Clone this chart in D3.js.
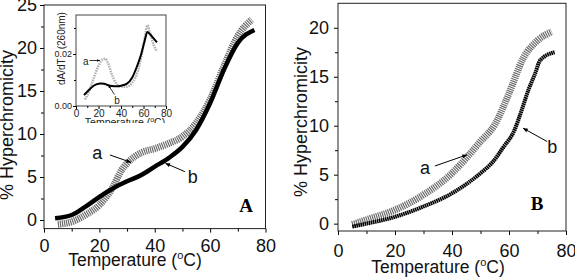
<!DOCTYPE html>
<html>
<head>
<meta charset="utf-8">
<script src="https://cdn.jsdelivr.net/npm/d3@7"></script>
<style>
  body { margin: 0; background: #fff; }
  svg { display: block; font-family: "Liberation Sans", Arial, sans-serif; }
</style>
</head>
<body>
<div id="d3-container"></div>
<script>
/* DATA */
// panel A, main curves
const tempA_a = [5, 10, 15, 20, 25, 28, 30, 35, 40, 45, 50, 55, 60, 65, 70, 75];
const hypA_a  = [-0.5, -0.2, 0.6, 1.75, 3.9, 5.8, 6.6, 7.8, 8.3, 8.9, 9.7, 11.3, 14, 17.9, 21.4, 23.3];
const tempA_b = [4, 10, 15, 20, 25, 30, 35, 40, 45, 50, 55, 60, 65, 70, 76];
const hypA_b  = [0.2, 0.58, 1.55, 2.7, 3.7, 4.5, 5.2, 6.2, 7.2, 8.5, 10.5, 13.6, 17.5, 20.6, 22.1];

// panel A, inset (derivative curves)
const tempIn_a = [8, 12, 16, 20, 24, 26, 28, 32, 36, 40, 45, 50, 55, 58, 61, 63.5, 66, 69, 72];
const dadtIn_a = [0.0025, 0.006, 0.011, 0.0155, 0.018, 0.0182, 0.017, 0.012, 0.0085, 0.0075, 0.0074, 0.009, 0.0135, 0.019, 0.026, 0.031, 0.028, 0.0235, 0.021];
const tempIn_b = [7, 10, 14, 18, 22, 25, 28, 32, 36, 40, 45, 50, 54, 58, 61, 63.5, 66, 69, 72];
const dadtIn_b = [0.0042, 0.0055, 0.0072, 0.0083, 0.0087, 0.0086, 0.0081, 0.0077, 0.0076, 0.0078, 0.0085, 0.011, 0.015, 0.020, 0.025, 0.0285, 0.0275, 0.026, 0.0245];

// panel B
const tempB_a = [5, 10, 20, 30, 40, 45, 50, 55, 60, 65, 70, 75];
const hypB_a  = [-0.1, 0.4, 1.4, 2.95, 5.15, 6.7, 8.4, 10.1, 13.3, 16.9, 18.7, 19.6];
const tempB_b = [5, 10, 20, 30, 40, 50, 54, 58, 62, 64, 67, 69, 71, 76];
const hypB_b  = [-0.3, 0, 0.7, 1.75, 3.1, 5.15, 6.2, 7.8, 9.6, 11.2, 13.8, 15.2, 16.7, 17.5];

// ticks
const xTicks = [0, 20, 40, 60, 80];
const xMinor = [10, 30, 50, 70];
const yTicksA = [0, 5, 10, 15, 20, 25];
const yTicksB = [0, 5, 10, 15, 20];
const yMinor = [2.5, 7.5, 12.5, 17.5, 22.5];
const insetYTicks = [0, 0.02];
const insetYMinor = [0.01, 0.03];

/* SVG */
const width = 575, height = 277;
const svg = d3.select("#d3-container").append("svg")
  .attr("width", width).attr("height", height);

const defs = svg.append("defs");
defs.append("marker")
  .attr("id", "arrow").attr("viewBox", "0 0 10 10")
  .attr("refX", 9).attr("refY", 5)
  .attr("markerWidth", 6).attr("markerHeight", 5)
  .attr("orient", "auto")
  .append("path").attr("d", "M0,1 L10,5 L0,9 Z").attr("fill", "#000");
defs.append("marker")
  .attr("id", "arrowSmall").attr("viewBox", "0 0 10 10")
  .attr("refX", 9).attr("refY", 5)
  .attr("markerWidth", 4).attr("markerHeight", 4)
  .attr("orient", "auto")
  .append("path").attr("d", "M0,1 L10,5 L0,9 Z").attr("fill", "#000");

const zip = (xs, ys) => xs.map((x, i) => [x, ys[i]]);

function drawPanel(cfg) {
  const x = d3.scaleLinear().domain([0, 80]).range([cfg.left, cfg.right]);
  const y = d3.scaleLinear().domain(cfg.yDomain).range([cfg.bottom, cfg.top]);
  const g = svg.append("g");

  // minor ticks
  g.append("g").attr("transform", `translate(0,${cfg.bottom})`)
    .call(d3.axisBottom(x).tickValues(xMinor).tickSize(3).tickFormat(""))
    .call(a => a.select(".domain").remove());
  g.append("g").attr("transform", `translate(${cfg.left},0)`)
    .call(d3.axisLeft(y).tickValues(yMinor.filter(v => v < cfg.yDomain[1])).tickSize(3).tickFormat(""))
    .call(a => a.select(".domain").remove());

  // major ticks
  const xa = g.append("g").attr("transform", `translate(0,${cfg.bottom})`)
    .call(d3.axisBottom(x).tickValues(xTicks).tickSize(4).tickPadding(cfg.xPad));
  const ya = g.append("g").attr("transform", `translate(${cfg.left},0)`)
    .call(d3.axisLeft(y).tickValues(cfg.yTicks).tickSize(4).tickPadding(cfg.yPad));
  [xa, ya].forEach(a => {
    a.select(".domain").remove();
    a.selectAll("text").attr("font-size", 18).attr("fill", "#111").attr("font-family", "Liberation Sans, Arial");
  });

  // curves: a = grey hatched band, b = black
  const line = d3.line().x(d => x(d[0])).y(d => y(d[1])).curve(d3.curveMonotoneX);
  g.append("path").datum(zip(cfg.aT, cfg.aV))
    .attr("d", line).attr("fill", "none")
    .attr("stroke", "#6a6a6a").attr("stroke-width", 7)
    .attr("stroke-dasharray", "1.2 0.9");
  g.append("path").datum(zip(cfg.bT, cfg.bV))
    .attr("d", line).attr("fill", "none")
    .attr("stroke", "#000").attr("stroke-width", cfg.bWidth)
    .attr("stroke-dasharray", cfg.bDash);

  // frame
  g.append("rect")
    .attr("x", cfg.left).attr("y", cfg.top)
    .attr("width", cfg.right - cfg.left).attr("height", cfg.bottom - cfg.top)
    .attr("fill", "none").attr("stroke", "#222").attr("stroke-width", 1);

  // labels a / b with arrows
  cfg.notes.forEach(n => {
    g.append("line")
      .attr("x1", x(n.tail[0])).attr("y1", y(n.tail[1]))
      .attr("x2", x(n.tip[0])).attr("y2", y(n.tip[1]))
      .attr("stroke", "#000").attr("stroke-width", 1)
      .attr("marker-end", "url(#arrow)");
    g.append("text")
      .attr("x", x(n.at[0])).attr("y", y(n.at[1]))
      .attr("text-anchor", "middle").attr("dominant-baseline", "central")
      .attr("font-size", 18).attr("fill", "#111")
      .text(n.label);
  });

  // panel letter
  g.append("text")
    .attr("x", cfg.letterX).attr("y", cfg.letterY)
    .attr("text-anchor", "middle")
    .attr("font-family", "Liberation Serif, Times New Roman, serif")
    .attr("font-weight", "bold").attr("font-size", 19)
    .text(cfg.letter);

  // axis titles
  const xt = g.append("text")
    .attr("x", cfg.xTitleX).attr("y", cfg.xTitleY)
    .attr("text-anchor", "middle").attr("font-size", 17.5).attr("fill", "#111");
  xt.append("tspan").text("Temperature (");
  xt.append("tspan").attr("dy", -7).attr("font-size", 11).text("o");
  xt.append("tspan").attr("dy", 7).text("C)");

  g.append("text")
    .attr("transform", `translate(${cfg.yTitleX},${cfg.yTitleY}) rotate(-90)`)
    .attr("text-anchor", "middle").attr("font-size", 18).attr("fill", "#111")
    .text("% Hyperchromicity");

  return { x, y };
}

/* PANEL A */
drawPanel({
  left: 44, right: 265.5, top: 5, bottom: 228.6, yDomain: [-1, 25],
  yTicks: yTicksA, xPad: 7, yPad: 3,
  aT: tempA_a, aV: hypA_a, bT: tempA_b, bV: hypA_b, bWidth: 4.5, bDash: null,
  notes: [
    { label: "a", at: [19.2, 7.76], tail: [23.8, 7.56], tip: [31.4, 6.71] },
    { label: "b", at: [53.7, 5.03], tail: [50.9, 5.62], tip: [43.9, 6.59] }
  ],
  letter: "A", letterX: 246, letterY: 212,
  xTitleX: 135, xTitleY: 266, yTitleX: 13, yTitleY: 125
});

/* INSET in A */
(function () {
  const L = 76, R = 166, T = 15, B = 106;
  const x = d3.scaleLinear().domain([0, 80]).range([L, R]);
  const y = d3.scaleLinear().domain([0, 0.035]).range([B, T]);
  const g = svg.append("g");
  g.append("rect").attr("x", L).attr("y", T).attr("width", R - L).attr("height", B - T)
    .attr("fill", "#fff").attr("stroke", "#444").attr("stroke-width", 1);

  g.append("g").attr("transform", `translate(0,${B})`)
    .call(d3.axisBottom(x).tickValues(xMinor).tickSize(2).tickFormat(""))
    .call(a => a.select(".domain").remove());
  g.append("g").attr("transform", `translate(${L},0)`)
    .call(d3.axisLeft(y).tickValues(insetYMinor).tickSize(2).tickFormat(""))
    .call(a => a.select(".domain").remove());
  const xa = g.append("g").attr("transform", `translate(0,${B})`)
    .call(d3.axisBottom(x).tickValues(xTicks).tickSize(3).tickPadding(1));
  const ya = g.append("g").attr("transform", `translate(${L},0)`)
    .call(d3.axisLeft(y).tickValues(insetYTicks).tickSize(3).tickPadding(1).tickFormat(d3.format(".2f")));
  [xa, ya].forEach(a => {
    a.select(".domain").remove();
    a.selectAll("text").attr("fill", "#222").attr("font-family", "Liberation Sans, Arial");
  });
  xa.selectAll("text").attr("font-size", 10);
  ya.selectAll("text").attr("font-size", 9);

  const line = d3.line().x(d => x(d[0])).y(d => y(d[1])).curve(d3.curveMonotoneX);
  g.append("path").datum(zip(tempIn_a, dadtIn_a)).attr("d", line)
    .attr("fill", "none").attr("stroke", "#b0b0b0").attr("stroke-width", 2.5)
    .attr("stroke-dasharray", "1.5 1");
  g.append("path").datum(zip(tempIn_b, dadtIn_b)).attr("d", line)
    .attr("fill", "none").attr("stroke", "#000").attr("stroke-width", 2);

  [
    { label: "a", at: [8.6, 0.0173], tail: [12, 0.0175], tip: [21.3, 0.0175] },
    { label: "b", at: [36.4, 0.0023], tail: [34.2, 0.0044], tip: [28.9, 0.0079] }
  ].forEach(n => {
    g.append("line")
      .attr("x1", x(n.tail[0])).attr("y1", y(n.tail[1]))
      .attr("x2", x(n.tip[0])).attr("y2", y(n.tip[1]))
      .attr("stroke", "#000").attr("stroke-width", 0.8)
      .attr("marker-end", "url(#arrowSmall)");
    g.append("text")
      .attr("x", x(n.at[0])).attr("y", y(n.at[1]))
      .attr("text-anchor", "middle").attr("dominant-baseline", "central")
      .attr("font-size", 10).attr("fill", "#222").text(n.label);
  });

  // titles (cut off by the outer frame / figure edge in the original)
  defs.append("clipPath").attr("id", "insetClip")
    .append("rect").attr("x", 50).attr("y", 6).attr("width", 130).attr("height", 117);
  const tg = g.append("g").attr("clip-path", "url(#insetClip)");
  const xt = tg.append("text")
    .attr("x", 125).attr("y", 126)
    .attr("text-anchor", "middle").attr("font-size", 10.5).attr("fill", "#222");
  xt.append("tspan").text("Temperature (");
  xt.append("tspan").attr("dy", -4).attr("font-size", 7).text("o");
  xt.append("tspan").attr("dy", 4).text("C)");
  // "0.02" sits in the gap between the two parts of this title
  const yt = tg.append("text")
    .attr("transform", "translate(65,85) rotate(-90)")
    .attr("font-size", 10).attr("fill", "#222");
  yt.append("tspan").text("dA/dT");
  yt.append("tspan").attr("dx", 9).text("(260nm)");
})();

/* PANEL B */
drawPanel({
  left: 338, right: 566, top: 3.3, bottom: 231, yDomain: [-0.75, 22.5],
  yTicks: yTicksB, xPad: 9, yPad: 5,
  aT: tempB_a, aV: hypB_a, bT: tempB_b, bV: hypB_b, bWidth: 4, bDash: "1.6 0.5",
  notes: [
    { label: "a", at: [30.5, 5.66], tail: [34.0, 5.89], tip: [45.2, 7.02] },
    { label: "b", at: [75.2, 7.87], tail: [73.4, 8.38], tip: [65.0, 9.74] }
  ],
  letter: "B", letterX: 537, letterY: 210,
  xTitleX: 438, xTitleY: 273, yTitleX: 307, yTitleY: 122
});
</script>
</body>
</html>
